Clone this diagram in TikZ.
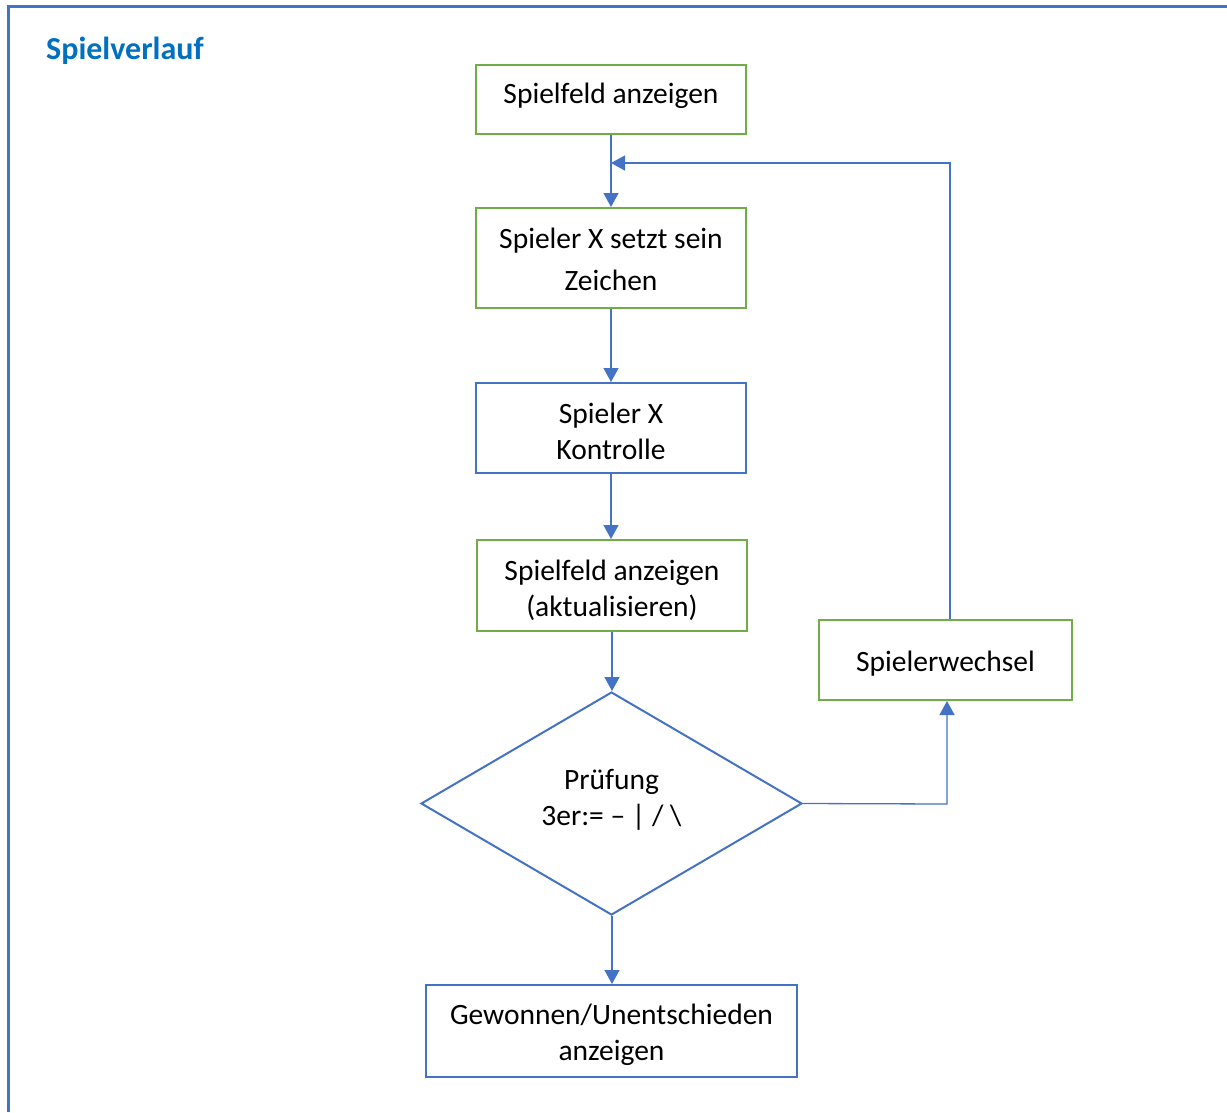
\documentclass[tikz,border=0pt]{standalone}
\usepackage{fontspec}
\setmainfont{Carlito}
\usetikzlibrary{arrows.meta,shapes.geometric}
\definecolor{bxgreen}{HTML}{70AD47}
\definecolor{bxblue}{HTML}{4472C4}
\definecolor{ttlblue}{HTML}{0070C0}
\begin{document}
\begin{tikzpicture}[x=1pt,y=-1pt,
  box/.style={draw, line width=2pt, rectangle, inner sep=0pt},
  gbox/.style={box, draw=bxgreen},
  bbox/.style={box, draw=bxblue},
  lbl/.style={align=center, inner sep=0pt, font=\fontsize{29.5}{36}\selectfont},
  conn/.style={draw=bxblue, line width=1.3pt, -{Triangle[length=14pt,width=15pt]}},
]
\useasboundingbox (0,0) rectangle (1227,1112);
\draw[bxblue, line width=2.5pt] (8.5,1112) -- (8.5,6.5) -- (1227,6.5);
\node[anchor=base west, text=ttlblue, font=\fontsize{32}{36}\selectfont\bfseries, inner sep=0pt] (title) at (46,59) {Spielverlauf};

\node[gbox, minimum width=270pt, minimum height=69pt,
  label={[lbl, yshift=3.5pt]center:Spielfeld anzeigen}] (n1) at (611,99.5) {};
\node[gbox, minimum width=270pt, minimum height=100pt,
  label={[lbl, font=\fontsize{29.5}{42}\selectfont, yshift=-1pt]center:Spieler X setzt sein\\Zeichen}] (n2) at (611,258) {};
\node[bbox, minimum width=270pt, minimum height=90pt,
  label={[lbl, yshift=-3pt]center:Spieler X\\Kontrolle}] (n3) at (611,428) {};
\node[gbox, minimum width=270pt, minimum height=91pt,
  label={[lbl, yshift=-4.5pt]center:Spielfeld anzeigen\\(aktualisieren)}] (n4) at (612,585.5) {};
\node[draw=bxblue, line width=2pt, diamond, aspect=1.7, minimum width=381pt, minimum height=223pt, inner sep=0pt,
  label={[lbl, yshift=3.5pt]center:Prüfung\\3er:= – | / \textbackslash}] (d) at (611.5,803.5) {};
\node[bbox, minimum width=371pt, minimum height=92pt,
  label={[lbl, yshift=-4pt]center:Gewonnen/Unentschieden\\anzeigen}] (n6) at (611.5,1031) {};
\node[gbox, minimum width=253pt, minimum height=80pt,
  label={[lbl, yshift=-4pt]center:Spielerwechsel}] (n7) at (945.5,660) {};

\coordinate (lp) at (950,163);
\coordinate (tg) at (611,163);
\coordinate (rc) at (947,804);
\path[conn] (n1.south) -- (n2.north);
\path[conn] (n2.south) -- (n3.north);
\path[conn] (n3.south) -- (n4.north -| n3.south);
\path[conn] (n4.south) -- (d.north -| n4.south);
\path[conn] (d.south -| 612,0) -- (n6.north -| 612,0);
\path[conn] (d.east) -- (rc) -- (rc |- n7.south);
\path[conn] (n7.north -| lp) -- (lp) -- (tg);
\end{tikzpicture}
\end{document}
